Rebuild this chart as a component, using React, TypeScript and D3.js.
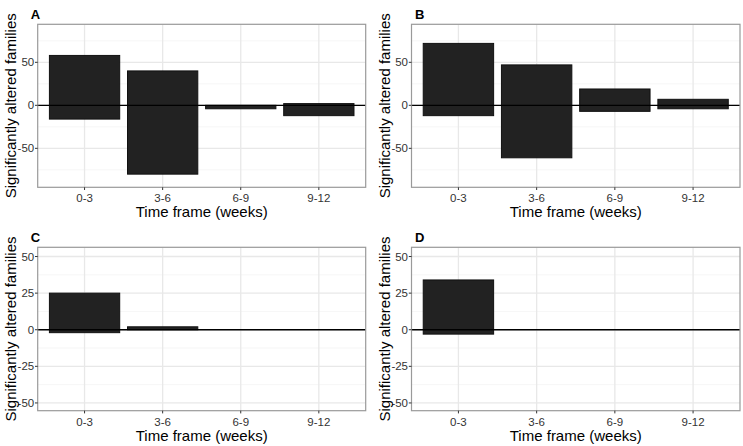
import * as d3 from 'd3'

const categories = ['0-3', '3-6', '6-9', '9-12']

const upA = [58, 40, 0, 2]
const downA = [-16, -80, -4, -12]
const upB = [72, 47, 19, 7]
const downB = [-12, -61, -7, -4]
const upC = [25, 2, 0, 0]
const downC = [-2, 0, 0, 0]
const upD = [34, 0, 0, 0]
const downD = [-3, 0, 0, 0]

const ticksWide = [-50, 0, 50]
const ticksNarrow = [-50, -25, 0, 25, 50]

const FONT = "'Liberation Sans', Arial, sans-serif"

interface PanelProps {
  label: string
  up: number[]
  down: number[]
  left: number
  right: number
  top: number
  bottom: number
  domain: [number, number]
  ticks: number[]
}

function Panel({ label, up, down, left, right, top, bottom, domain, ticks }: PanelProps) {
  const x = d3.scaleLinear().domain([-0.6, categories.length - 0.4]).range([left, right])
  const y = d3.scaleLinear().domain(domain).range([bottom, top])
  const step = ticks[1] - ticks[0]
  const minor = ticks.slice(0, -1).map(t => t + step / 2)
  minor.unshift(ticks[0] - step / 2)
  minor.push(ticks[ticks.length - 1] + step / 2)
  const minorIn = minor.filter(m => m > domain[0] && m < domain[1])
  const bw = 0.9

  return (
    <g>
      <rect x={left} y={top} width={right - left} height={bottom - top} fill="white" />
      {minorIn.map(m => (
        <line key={'mn' + m} x1={left} x2={right} y1={y(m)} y2={y(m)} stroke="#f4f4f4" strokeWidth={0.8} />
      ))}
      {ticks.map(t => (
        <line key={'mj' + t} x1={left} x2={right} y1={y(t)} y2={y(t)} stroke="#e8e8e8" strokeWidth={1.3} />
      ))}
      {categories.map((c, i) => (
        <line key={'vx' + c} x1={x(i)} x2={x(i)} y1={top} y2={bottom} stroke="#e8e8e8" strokeWidth={1.3} />
      ))}
      {categories.map((c, i) => (
        <rect
          key={'bar' + c}
          x={x(i - bw / 2)}
          y={y(up[i])}
          width={x(i + bw / 2) - x(i - bw / 2)}
          height={y(down[i]) - y(up[i])}
          fill="#222222"
          stroke="#111111"
          strokeWidth={1}
        />
      ))}
      <line x1={left} x2={right} y1={y(0)} y2={y(0)} stroke="#000" strokeWidth={1.4} />
      <rect x={left} y={top} width={right - left} height={bottom - top} fill="none" stroke="#9a9a9a" strokeWidth={1.2} />
      {ticks.map(t => (
        <g key={'yt' + t}>
          <line x1={left - 2.7} x2={left} y1={y(t)} y2={y(t)} stroke="#333" strokeWidth={1} />
          <text x={left - 3.5} y={y(t)} dy="0.36em" textAnchor="end" fontSize={11.5} fill="#333" fontFamily={FONT}>
            {t}
          </text>
        </g>
      ))}
      {categories.map((c, i) => (
        <g key={'xt' + c}>
          <line x1={x(i)} x2={x(i)} y1={bottom} y2={bottom + 2.7} stroke="#333" strokeWidth={1} />
          <text x={x(i)} y={bottom + 15} textAnchor="middle" fontSize={11.5} fill="#333" fontFamily={FONT}>
            {c}
          </text>
        </g>
      ))}
      <text x={(left + right) / 2} y={bottom + 30} textAnchor="middle" fontSize={15} fill="#000" fontFamily={FONT}>
        Time frame (weeks)
      </text>
      <text
        transform={`translate(${left - 21.5},${(top + bottom) / 2}) rotate(-90)`}
        textAnchor="middle"
        fontSize={15}
        fill="#000"
        fontFamily={FONT}
      >
        Significantly altered families
      </text>
      <text x={left - (label === 'A' || label === 'C' ? 7 : -3.5)} y={top - 5.5} fontSize={13} fontWeight="bold" fill="#000" fontFamily={FONT}>
        {label}
      </text>
    </g>
  )
}

export default function App() {
  return (
    <svg
      width={743}
      height={446}
      style={{ position: 'absolute', left: 0, top: 0, background: 'white' }}
    >
      <rect width={743} height={446} fill="white" />
      <Panel label="A" up={upA} down={downA} left={37.7} right={365.7} top={24.3} bottom={187.3} domain={[-95.3, 94.2]} ticks={ticksWide} />
      <Panel label="B" up={upB} down={downB} left={411.5} right={740} top={24.3} bottom={187.3} domain={[-95.3, 94.2]} ticks={ticksWide} />
      <Panel label="C" up={upC} down={downC} left={37.7} right={365.7} top={247.3} bottom={410.7} domain={[-55.3, 56.3]} ticks={ticksNarrow} />
      <Panel label="D" up={upD} down={downD} left={411.5} right={740} top={247.3} bottom={410.7} domain={[-55.3, 56.3]} ticks={ticksNarrow} />
    </svg>
  )
}
